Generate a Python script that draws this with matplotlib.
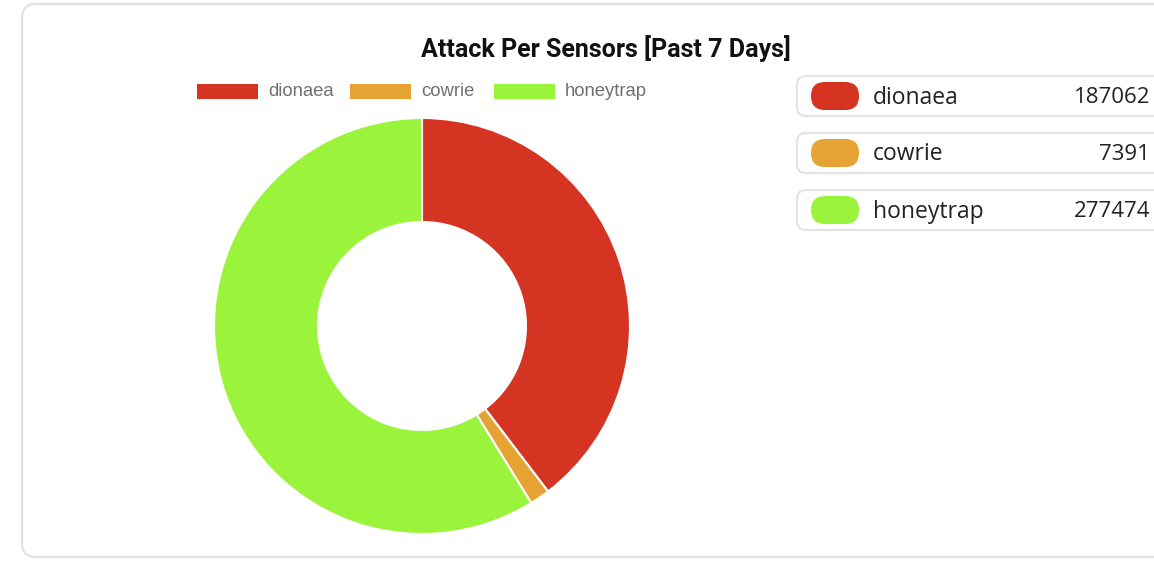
import matplotlib
matplotlib.use("Agg")
import matplotlib.pyplot as plt
from matplotlib.patches import FancyBboxPatch, Rectangle

categories = ["dionaea", "cowrie", "honeytrap"]
values = [187062, 7391, 277474]
colors = ["#d53422", "#e6a333", "#9af43c"]
title = "Attack Per Sensors [Past 7 Days]"

W, H = 1154, 562
fig = plt.figure(figsize=(W / 100, H / 100), dpi=100)
fig.patch.set_facecolor("white")

# base axes in pixel coords (y down)
base = fig.add_axes([0, 0, 1, 1])
base.set_xlim(0, W)
base.set_ylim(H, 0)
base.axis("off")

# card
base.add_patch(FancyBboxPatch((22, 4), 1160, 553, boxstyle="round,pad=0,rounding_size=14",
                              facecolor="white", edgecolor="#e2e2e2", lw=1.6))

# title
base.text(606, 49, title, ha="center", va="center", fontsize=18, fontweight="bold",
          family=["Roboto", "DejaVu Sans"], color="#111111")

# top legend
leg_x = [197, 350, 494]
for x, c, lab in zip(leg_x, colors, categories):
    base.add_patch(Rectangle((x, 84), 61, 15, facecolor=c, edgecolor="none"))
    base.text(x + 71, 91, lab, ha="left", va="center", fontsize=13.3,
              family=["Liberation Sans", "DejaVu Sans"], color="#707070")

# right legend rows
row_y = [96, 153, 210]
for y, c, lab, v in zip(row_y, colors, categories, values):
    base.add_patch(FancyBboxPatch((797, y - 20), 380, 40, boxstyle="round,pad=0,rounding_size=9",
                                  facecolor="white", edgecolor="#e4e4e8", lw=1.6))
    base.add_patch(FancyBboxPatch((811, y - 14), 48, 28, boxstyle="round,pad=0,rounding_size=14",
                                  facecolor=c, edgecolor="none"))
    base.text(873, y + 1.5, lab, ha="left", va="center", fontsize=16.5,
              family=["Open Sans", "DejaVu Sans"], color="#222222")
    base.text(1150, y + 1.5, f"{v}", ha="right", va="center", fontsize=16,
              family=["Open Sans", "DejaVu Sans"], color="#222222")

# donut
cx, cy, r = 422, 326, 208
pax = fig.add_axes([(cx - r) / W, (H - cy - r) / H, 2 * r / W, 2 * r / H])
pax.pie(values, colors=colors, startangle=90, counterclock=False, radius=1,
        wedgeprops=dict(width=0.5, edgecolor="white", linewidth=1.5))
pax.set_xlim(-1, 1)
pax.set_ylim(-1, 1)
pax.set_aspect("equal")
pax.axis("off")

fig.savefig("out.png", dpi=100, facecolor="white")
